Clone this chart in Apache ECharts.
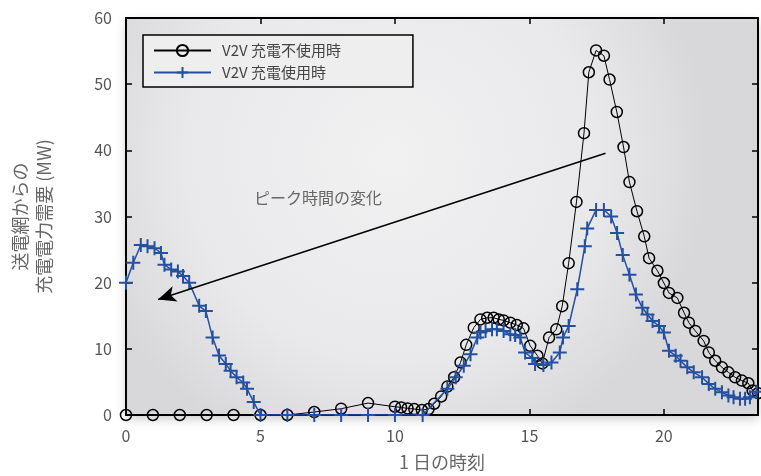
<!DOCTYPE html>
<html><head><meta charset="utf-8">
<script src="https://cdn.jsdelivr.net/npm/echarts@6/dist/echarts.min.js"></script>
<style>html,body{margin:0;padding:0;background:#fff}#c{width:761px;height:476px}</style>
</head><body><div id="c"></div>
<script>
const FONT = '"Noto Sans CJK JP","Noto Sans",sans-serif';
const seriesNames = ['V2V 充電不使用時', 'V2V 充電使用時'];
const xTicks = [0, 5, 10, 15, 20];
const yTicks = [0, 10, 20, 30, 40, 50, 60];
const annotationText = 'ピーク時間の変化';
const arrowFrom = [17.83, 39.55];
const arrowTo = [1.19, 17.45];

const noV2V = [
  [0,0],[1,0],[2,0],[3,0],[4,0],[5,0],[6,0],[7,0.45],[8,0.95],[9,1.8],[10,1.25],
  [10.23,1.15],[10.47,1.0],[10.72,0.9],[11.0,0.75],[11.25,0.9],[11.46,1.7],[11.72,2.8],
  [11.95,4.3],[12.2,5.7],[12.44,7.95],[12.65,10.6],[12.93,13.2],[13.18,14.45],[13.43,14.7],
  [13.67,14.7],[13.86,14.45],[14.04,14.3],[14.29,13.95],[14.53,13.6],[14.78,13.1],
  [15.03,10.45],[15.3,8.95],[15.48,7.8],[15.73,11.7],[16.0,12.95],[16.22,16.45],
  [16.46,22.95],[16.75,32.2],[17.03,42.6],[17.21,51.8],[17.48,55.1],[17.77,54.3],
  [17.98,50.7],[18.25,45.8],[18.5,40.5],[18.72,35.2],[19.0,30.8],[19.27,27.0],
  [19.45,23.7],[19.76,21.8],[20.0,19.95],[20.19,18.45],[20.5,17.7],[20.75,15.45],
  [20.93,13.95],[21.17,12.7],[21.48,11.2],[21.67,9.45],[21.91,8.2],[22.16,7.2],
  [22.4,6.45],[22.65,5.7],[22.9,5.2],[23.14,4.8],[23.3,3.7],[23.5,3.3]
];
const withV2V = [
  [0,20.0],[0.27,23.0],[0.55,25.7],[0.8,25.5],[1.06,25.2],[1.3,24.5],[1.43,22.7],
  [1.68,22.0],[1.93,21.7],[2.12,21.0],[2.35,20.0],[2.72,16.5],[2.97,15.7],[3.22,11.7],
  [3.46,9.0],[3.71,7.7],[3.89,6.7],[4.11,5.7],[4.36,4.9],[4.5,3.95],[4.75,1.95],[5.0,0],
  [6,0],[7,0],[8,0],[9,0],[10,0],[11.03,0],[11.95,3.95],[12.26,5.7],[12.56,7.45],
  [12.81,9.2],[13.06,11.7],[13.18,12.45],[13.37,12.7],[13.61,12.95],[13.79,12.95],
  [14.04,12.7],[14.29,12.2],[14.47,12.1],[14.66,11.7],[14.84,9.45],[15.11,8.6],
  [15.21,7.7],[15.52,7.55],[15.82,7.95],[16.13,9.45],[16.25,11.7],[16.46,13.45],
  [16.78,19.0],[17.06,25.5],[17.15,28.2],[17.48,31.0],[17.77,31.0],[18.04,30.0],
  [18.26,27.5],[18.47,24.2],[18.72,21.2],[18.96,18.2],[19.2,16.2],[19.39,15.2],
  [19.58,14.2],[19.82,13.45],[20.0,12.45],[20.19,9.7],[20.44,8.95],[20.62,8.2],
  [20.87,7.2],[21.11,6.45],[21.42,5.7],[21.67,4.7],[21.91,3.95],[22.16,3.45],
  [22.4,2.95],[22.59,2.7],[22.83,2.45],[23.02,2.45],[23.2,2.7],[23.45,3.5]
];

const chart = echarts.init(document.getElementById('c'), null, {renderer:'canvas'});
const axisLine = {show:true, onZero:false, lineStyle:{color:'#000', width:2}};
const tickStyle = {show:true, inside:true, length:6, lineStyle:{color:'#000', width:1.5}};
const labelStyle = {color:'#555', fontSize:16, fontFamily:FONT};

chart.setOption({
  animation:false,
  textStyle:{fontFamily:FONT},
  grid:{left:125, top:18, right:0, bottom:58, show:true,
    backgroundColor:{type:'radial', x:0.42, y:0.35, r:0.8,
      colorStops:[{offset:0,color:'#f1f1f2'},{offset:0.65,color:'#e9e9eb'},{offset:1,color:'#d8d8da'}]},
    borderColor:'#000', borderWidth:0,
    shadowBlur:10, shadowColor:'rgba(0,0,0,0.2)', shadowOffsetY:4},
  legend:{left:143, top:35, orient:'vertical', itemWidth:57, itemHeight:14, itemGap:7,
    padding:[8,72,7,10], borderColor:'#000', borderWidth:1.5, backgroundColor:'#eeeeef',
    textStyle:{color:'#444', fontSize:15, fontFamily:FONT, padding:[0,0,0,6]}, data:seriesNames},
  xAxis:[{type:'value', min:0, max:23.5, interval:5, position:'bottom',
    axisLine:axisLine, axisTick:tickStyle, splitLine:{show:false},
    axisLabel:Object.assign({margin:13, formatter:v=>xTicks.includes(v)?String(v):''}, labelStyle),
    name:'1 日の時刻', nameLocation:'middle', nameGap:38,
    nameTextStyle:{color:'#666', fontSize:18, fontFamily:FONT}},
   {type:'value', min:0, max:23.5, interval:5, position:'top',
    axisLine:axisLine, axisTick:tickStyle, axisLabel:{show:false}, splitLine:{show:false}}],
  yAxis:[{type:'value', min:0, max:60, interval:10, position:'left',
    axisLine:axisLine, axisTick:tickStyle, splitLine:{show:false},
    axisLabel:Object.assign({margin:14, formatter:v=>yTicks.includes(v)?String(v):''}, labelStyle),
    name:'送電網からの\n充電電力需要 (MW)', nameLocation:'middle', nameGap:70,
    nameTextStyle:{color:'#666', fontSize:18, lineHeight:24, fontFamily:FONT}},
   {type:'value', min:0, max:60, interval:10, position:'right',
    axisLine:axisLine, axisTick:tickStyle, axisLabel:{show:false}, splitLine:{show:false}}],
  graphic:[{type:'text', left:254, top:190, silent:true,
    style:{text:annotationText, fill:'#666', font:'16px ' + FONT}}],
  series:[
    {name:seriesNames[0], type:'line', data:noV2V, symbol:'circle', symbolSize:11,
     lineStyle:{color:'#000', width:1}, itemStyle:{color:'rgba(0,0,0,0)', borderColor:'#000', borderWidth:1.5},
     z:2,
     markLine:{silent:true, symbol:['none','arrow'], symbolSize:[12,18], label:{show:false},
       lineStyle:{color:'#000', width:1.5, type:'solid'},
       data:[[{coord:arrowFrom},{coord:arrowTo}]]}},
    {name:seriesNames[1], type:'line', data:withV2V, symbol:'path://M0,-1L0,1M-1,0L1,0',
     symbolSize:14, lineStyle:{color:'#2450a0', width:1.5},
     itemStyle:{color:'#2450a0', borderColor:'#2450a0', borderWidth:2}, z:3}
  ]
});
</script></body></html>
